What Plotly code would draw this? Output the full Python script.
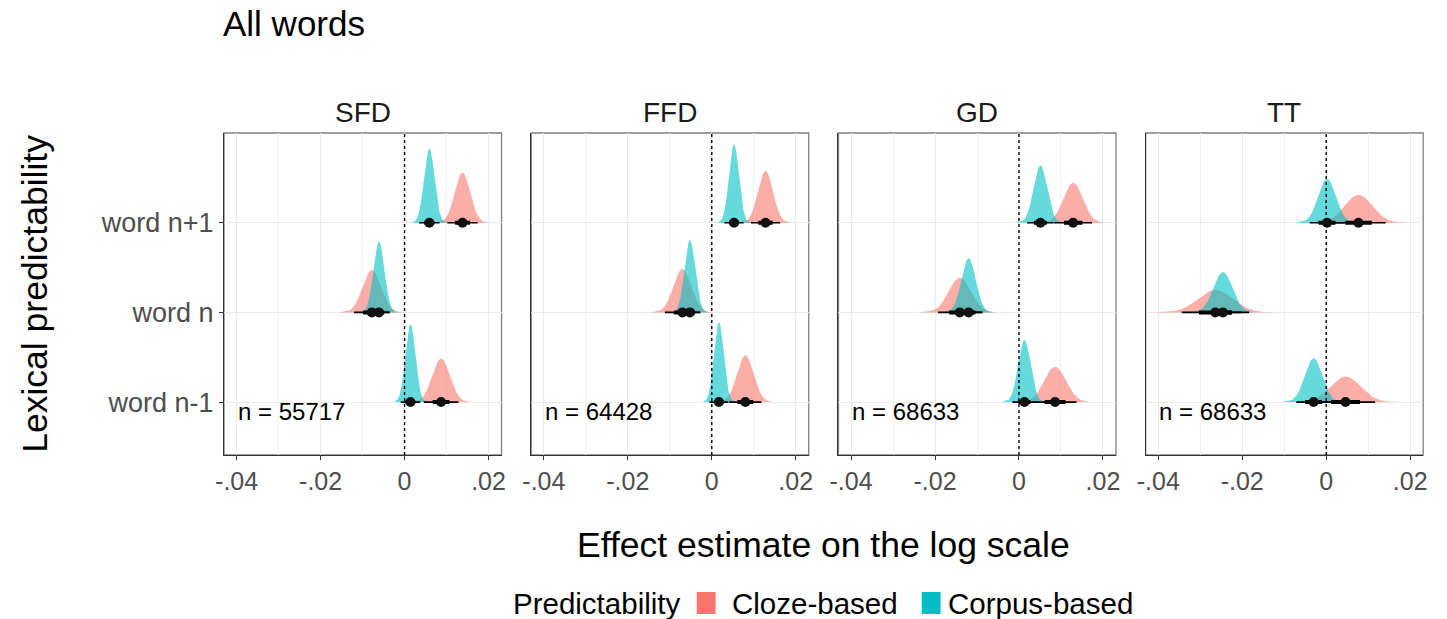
import numpy as np
import plotly.graph_objects as go

# ---------------- data ----------------
measures = ["SFD", "FFD", "GD", "TT"]
n_labels = ["n = 55717", "n = 64428", "n = 68633", "n = 68633"]
positions = ["word n-1", "word n", "word n+1"]
x_tickvals = [-0.04, -0.02, 0, 0.02]
x_ticktext = ["-.04", "-.02", "0", ".02"]

# rows: SFD, FFD, GD, TT ; columns: word n-1, word n, word n+1
cloze_mean = [
    [0.0087, -0.0078, 0.0138],
    [0.0080, -0.0070, 0.0128],
    [0.0086, -0.0141, 0.0129],
    [0.0046, -0.0264, 0.0077],
]
cloze_sd = [
    [0.00210, 0.00217, 0.00184],
    [0.00196, 0.00212, 0.00178],
    [0.00260, 0.00265, 0.00230],
    [0.00360, 0.00410, 0.00330],
]
corpus_mean = [
    [0.0014, -0.0061, 0.0059],
    [0.0017, -0.0052, 0.0053],
    [0.0013, -0.0120, 0.0051],
    [-0.0030, -0.0246, 0.0002],
]
corpus_sd = [
    [0.00118, 0.00130, 0.00124],
    [0.00115, 0.00127, 0.00117],
    [0.00148, 0.00170, 0.00161],
    [0.00210, 0.00228, 0.00210],
]

CLOZE = "#F8766D"
CORPUS = "#00BFC4"
W, H = 1447, 619
FONT = "Liberation Sans"

panel_px = [(217, 497), (527, 807), (837, 1117), (1147, 1427)]
top_px, bot_px = 133, 455
SLAB_SCALE = 0.00257


def px(x):
    return x / W


def py(y):
    return 1 - y / H


def rgba(hexc, a):
    h = hexc.lstrip("#")
    r, g, b = int(h[0:2], 16), int(h[2:4], 16), int(h[4:6], 16)
    return f"rgba({r},{g},{b},{a})"


fig = go.Figure()
shapes = []
annotations = []

for k, m in enumerate(measures):
    xa = "x" if k == 0 else f"x{k+1}"
    ya = "y" if k == 0 else f"y{k+1}"
    series = [(cloze_mean[k], cloze_sd[k], CLOZE), (corpus_mean[k], corpus_sd[k], CORPUS)]
    # slabs
    for pi in range(3):
        base = pi + 1
        for means, sds, col in series:
            mu, sd = means[pi], sds[pi]
            xs = np.linspace(mu - 3.6 * sd, mu + 3.6 * sd, 160)
            dens = np.exp(-0.5 * ((xs - mu) / sd) ** 2) / (sd * np.sqrt(2 * np.pi))
            ys = base + SLAB_SCALE * dens
            xx = np.concatenate([[xs[0]], xs, [xs[-1]]])
            yy = np.concatenate([[base], ys, [base]])
            fig.add_trace(go.Scatter(
                x=xx, y=yy, mode="lines", fill="toself", fillcolor=rgba(col, 0.6),
                line=dict(width=0), hoverinfo="skip", showlegend=False,
                xaxis=xa, yaxis=ya))
    # intervals + points
    for pi in range(3):
        base = pi + 1
        for means, sds, col in series:
            mu, sd = means[pi], sds[pi]
            fig.add_trace(go.Scatter(
                x=[mu - 1.96 * sd, mu + 1.96 * sd], y=[base, base], mode="lines",
                line=dict(color="black", width=1.6), hoverinfo="skip", showlegend=False,
                xaxis=xa, yaxis=ya))
            fig.add_trace(go.Scatter(
                x=[mu - 0.954 * sd, mu + 0.954 * sd], y=[base, base], mode="lines",
                line=dict(color="black", width=4), hoverinfo="skip", showlegend=False,
                xaxis=xa, yaxis=ya))
        fig.add_trace(go.Scatter(
            x=[cloze_mean[k][pi], corpus_mean[k][pi]], y=[base, base], mode="markers",
            marker=dict(color="#111111", size=10), hoverinfo="skip", showlegend=False,
            xaxis=xa, yaxis=ya))

    x0, x1 = panel_px[k]
    axis_common = dict(showline=True, linecolor="#333333", linewidth=1.3, mirror=False,
                       zeroline=False)
    fig.update_layout(**{
        ("xaxis" if k == 0 else f"xaxis{k+1}"): dict(
            domain=[px(x0), px(x1)], anchor=ya, range=[-0.043, 0.0231],
            tickvals=x_tickvals, ticktext=x_ticktext, ticks="outside", ticklen=4,
            tickcolor="#333333", tickfont=dict(size=25, color="#4D4D4D", family=FONT),
            showgrid=True, gridcolor="#EBEBEB", gridwidth=1.2,
            minor=dict(tickvals=[-0.03, -0.01, 0.01], showgrid=True, gridcolor="#F2F2F2",
                       gridwidth=0.8, ticks=""),
            **axis_common),
        ("yaxis" if k == 0 else f"yaxis{k+1}"): dict(
            domain=[py(bot_px), py(top_px)], anchor=xa, range=[0.41, 4.0],
            tickvals=[1, 2, 3], ticktext=positions if k == 0 else ["", "", ""],
            showticklabels=(k == 0), ticks="outside" if k == 0 else "", ticklen=4,
            tickcolor="#333333", tickfont=dict(size=27, color="#4D4D4D", family=FONT),
            showgrid=True, gridcolor="#EBEBEB", gridwidth=1.2,
            **axis_common),
    })
    # panel border (top/right lighter)
    shapes.append(dict(type="rect", xref="paper", yref="paper",
                       x0=px(x0), x1=px(x1), y0=py(bot_px), y1=py(top_px),
                       line=dict(color="#7F7F7F", width=1.3), fillcolor="rgba(0,0,0,0)",
                       layer="below"))
    # dotted zero line
    shapes.append(dict(type="line", xref=xa, yref=f"{ya} domain", x0=0, x1=0, y0=0, y1=1,
                       line=dict(color="black", width=1.4, dash="dot"), layer="above"))
    # strip label
    annotations.append(dict(text=m, x=px((x0 + x1) / 2), y=py(112), xref="paper", yref="paper",
                            showarrow=False, xanchor="center", yanchor="middle",
                            font=dict(size=28, color="#1A1A1A", family=FONT)))
    # n label
    annotations.append(dict(text=n_labels[k], x=-0.0402, y=0.89, xref=xa, yref=ya,
                            showarrow=False, xanchor="left", yanchor="middle",
                            font=dict(size=24, color="black", family=FONT)))

# titles
annotations.append(dict(text="All words", x=px(214), y=py(24), xref="paper", yref="paper",
                        showarrow=False, xanchor="left", yanchor="middle",
                        font=dict(size=35, color="black", family=FONT)))
annotations.append(dict(text="Effect estimate on the log scale", x=px(822), y=py(545),
                        xref="paper", yref="paper", showarrow=False, xanchor="center",
                        yanchor="middle", font=dict(size=35.5, color="black", family=FONT)))
annotations.append(dict(text="Lexical predictability", x=px(26), y=py(294), xref="paper",
                        yref="paper", showarrow=False, textangle=-90, xanchor="center",
                        yanchor="middle", font=dict(size=35.5, color="black", family=FONT)))

# legend (drawn manually)
annotations.append(dict(text="Predictability", x=px(507), y=py(603), xref="paper", yref="paper",
                        showarrow=False, xanchor="left", yanchor="middle",
                        font=dict(size=29.5, color="black", family=FONT)))
legend_items = [("Cloze-based", CLOZE, 694, 728), ("Corpus-based", CORPUS, 921, 945)]
for label, col, kx, tx in legend_items:
    shapes.append(dict(type="rect", xref="paper", yref="paper", x0=px(kx), x1=px(kx + 19),
                       y0=py(614), y1=py(592), line=dict(width=0), fillcolor=col))
    annotations.append(dict(text=label, x=px(tx), y=py(603), xref="paper", yref="paper",
                            showarrow=False, xanchor="left", yanchor="middle",
                            font=dict(size=29.5, color="black", family=FONT)))

fig.update_layout(width=W, height=H, margin=dict(l=0, r=0, t=0, b=0),
                  paper_bgcolor="white", plot_bgcolor="white",
                  showlegend=False, shapes=shapes, annotations=annotations,
                  font=dict(family=FONT))

fig.write_html("out.html")
